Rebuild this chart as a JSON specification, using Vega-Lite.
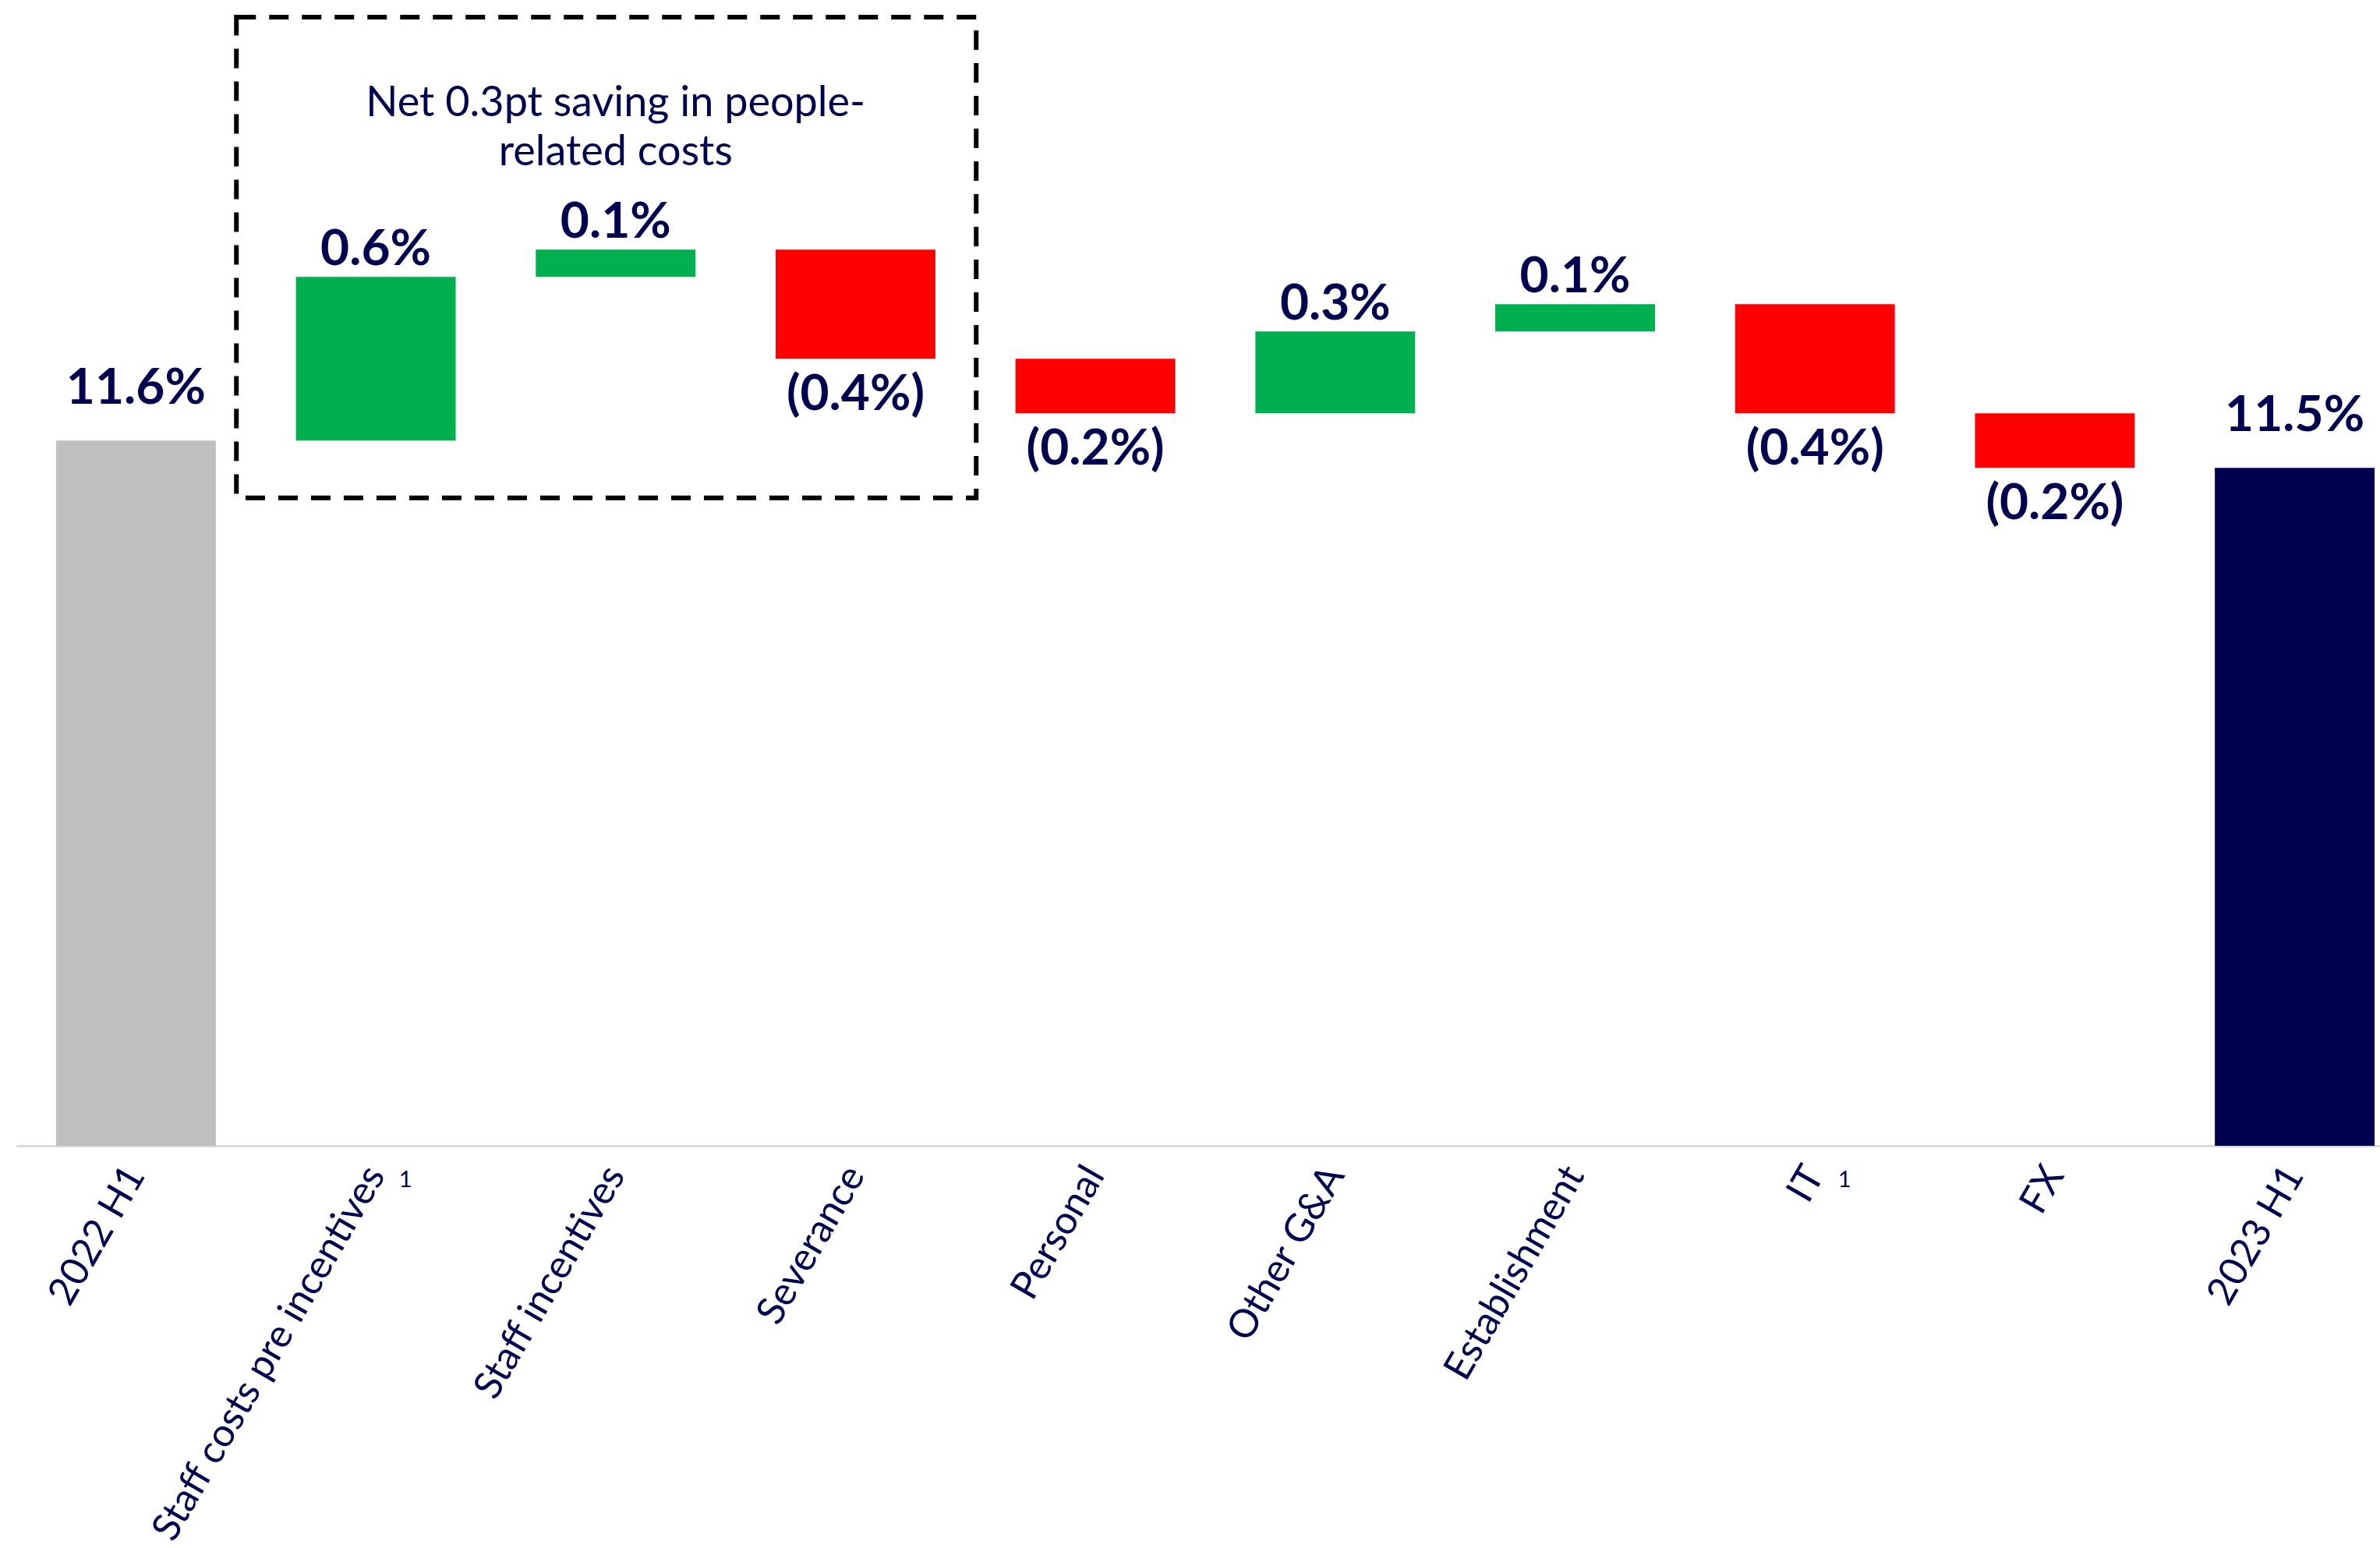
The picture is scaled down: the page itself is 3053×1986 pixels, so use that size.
{
  "$schema": "https://vega.github.io/schema/vega-lite/v6.json",
  "width": 3032,
  "height": 1449,
  "autosize": {"type": "none"},
  "padding": {"left": 21, "top": 21, "right": 0, "bottom": 516},
  "background": "white",
  "config": {"view": {"stroke": null}, "font": "Lato"},
  "data": {
    "values": [
      {"cat": "2022 H1", "start": null, "end": 11.6, "label": "11.6%", "kind": "start", "note": ""},
      {"cat": "Staff costs pre incentives", "start": 11.6, "end": 12.2, "label": "0.6%", "kind": "increase", "note": "1"},
      {"cat": "Staff incentives", "start": 12.2, "end": 12.3, "label": "0.1%", "kind": "increase", "note": ""},
      {"cat": "Severance", "start": 12.3, "end": 11.9, "label": "(0.4%)", "kind": "decrease", "note": ""},
      {"cat": "Personal", "start": 11.9, "end": 11.7, "label": "(0.2%)", "kind": "decrease", "note": ""},
      {"cat": "Other G&A", "start": 11.7, "end": 12.0, "label": "0.3%", "kind": "increase", "note": ""},
      {"cat": "Establishment", "start": 12.0, "end": 12.1, "label": "0.1%", "kind": "increase", "note": ""},
      {"cat": "IT", "start": 12.1, "end": 11.7, "label": "(0.4%)", "kind": "decrease", "note": "1"},
      {"cat": "FX", "start": 11.7, "end": 11.5, "label": "(0.2%)", "kind": "decrease", "note": ""},
      {"cat": "2023 H1", "start": null, "end": 11.5, "label": "11.5%", "kind": "end", "note": ""}
    ]
  },
  "encoding": {
    "x": {
      "field": "cat",
      "type": "nominal",
      "scale": {
        "domain": ["2022 H1", "Staff costs pre incentives", "Staff incentives", "Severance", "Personal", "Other G&A", "Establishment", "IT", "FX", "2023 H1"],
        "paddingInner": 0.334,
        "paddingOuter": 0.094,
        "align": 0.88
      },
      "axis": {
        "title": null,
        "labelAngle": -60,
        "labelAlign": "right",
        "labelBaseline": "middle",
        "labelPadding": 30,
        "labelFontSize": 50,
        "labelFont": "Lato",
        "labelColor": "#000050",
        "labelLimit": 2000,
        "labelOverlap": false,
        "ticks": false,
        "domainColor": "#D9D9D9",
        "domainWidth": 3,
        "grid": false
      }
    }
  },
  "layer": [
    {
      "transform": [{"filter": "datum.kind == 'start' || datum.kind == 'end'"}],
      "mark": {"type": "bar", "clip": true},
      "encoding": {
        "y": {"field": "end", "type": "quantitative", "scale": {"domain": [9.015, 13.155], "nice": false, "zero": false}, "axis": null},
        "y2": {"datum": 9.015},
        "color": {
          "field": "kind",
          "type": "nominal",
          "scale": {"domain": ["start", "increase", "decrease", "end"], "range": ["#BFBFBF", "#00B050", "#FF0000", "#000050"]},
          "legend": null
        }
      }
    },
    {
      "transform": [{"filter": "datum.kind == 'increase' || datum.kind == 'decrease'"}],
      "mark": {"type": "bar"},
      "encoding": {
        "y": {"field": "start", "type": "quantitative"},
        "y2": {"field": "end"},
        "color": {"field": "kind", "type": "nominal", "legend": null}
      }
    },
    {
      "transform": [{"filter": "datum.cat == 'Staff incentives'"}],
      "mark": {"type": "rect", "fill": null, "stroke": "#000000", "strokeWidth": 6, "strokeDash": [25, 17], "width": 949, "xOffset": -12},
      "encoding": {
        "y": {"datum": 11.39, "type": "quantitative"},
        "y2": {"datum": 13.152}
      }
    },
    {
      "transform": [{"filter": "datum.cat == 'Staff incentives'"}],
      "mark": {"type": "text", "fontSize": 54, "color": "#000050", "baseline": "middle", "align": "center", "lineHeight": 63},
      "encoding": {
        "y": {"datum": 12.835, "type": "quantitative"},
        "text": {"value": ["Net 0.3pt saving in people-", "related costs"]}
      }
    },
    {
      "transform": [{"filter": "datum.kind == 'start' || datum.kind == 'end'"}],
      "mark": {"type": "text", "fontSize": 64, "fontWeight": "bold", "color": "#000050", "baseline": "alphabetic", "dy": -47},
      "encoding": {
        "y": {"field": "end", "type": "quantitative"},
        "text": {"field": "label"}
      }
    },
    {
      "transform": [{"filter": "datum.kind == 'increase'"}],
      "mark": {"type": "text", "fontSize": 64, "fontWeight": "bold", "color": "#000050", "baseline": "alphabetic", "dy": -15},
      "encoding": {
        "y": {"field": "end", "type": "quantitative"},
        "text": {"field": "label"}
      }
    },
    {
      "transform": [{"filter": "datum.kind == 'decrease'"}],
      "mark": {"type": "text", "fontSize": 64, "fontWeight": "bold", "color": "#000050", "baseline": "alphabetic", "dy": 66},
      "encoding": {
        "y": {"field": "end", "type": "quantitative"},
        "text": {"field": "label"}
      }
    },
    {
      "transform": [{"filter": "datum.note != ''"}],
      "mark": {"type": "text", "fontSize": 29, "color": "#000050", "baseline": "middle", "align": "center", "dx": 38, "clip": false},
      "encoding": {
        "y": {"datum": 8.89, "type": "quantitative"},
        "text": {"field": "note"}
      }
    }
  ]
}
